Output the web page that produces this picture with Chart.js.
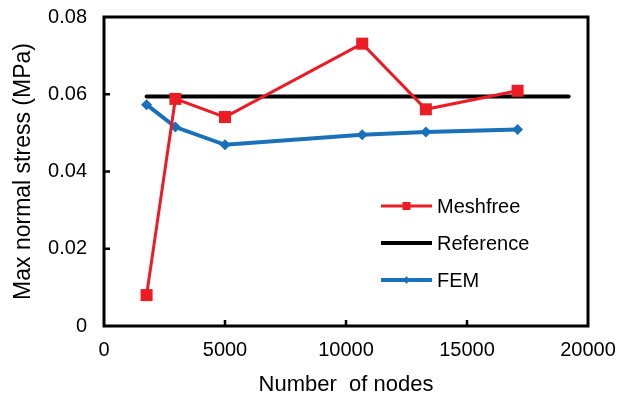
<!DOCTYPE html>
<html>
<head>
<meta charset="utf-8">
<script src="https://cdn.jsdelivr.net/npm/chart.js@4.4.1/dist/chart.umd.min.js"></script>
<style>
  html, body { margin: 0; padding: 0; background: #fff; }
</style>
</head>
<body>
<canvas id="stressChart" width="619" height="398"></canvas>
<script>
// convergence of max normal stress vs. mesh size
var nodes = [1760, 2950, 5000, 10670, 13300, 17090];
var meshfree = [0.0080, 0.0588, 0.0541, 0.0731, 0.0561, 0.0609];
var fem = [0.0573, 0.0515, 0.0469, 0.0495, 0.0502, 0.0509];
var refNodes = [1760, 19200];
var refStress = [0.0594, 0.0594];

var xTicks = [0, 5000, 10000, 15000, 20000];
var xTickLabels = ['0', '5000', '10000', '15000', '20000'];
var yTicks = [0, 0.02, 0.04, 0.06, 0.08];
var yTickLabels = ['0', '0.02', '0.04', '0.06', '0.08'];

var RED = '#ED1C24';
var BLUE = '#1B70BA';
var FONT = 'Arial, "Liberation Sans", sans-serif';

function toPoints(xs, ys) {
    return xs.map(function (x, i) { return { x: x, y: ys[i] }; });
}

Chart.defaults.font.family = FONT;
Chart.defaults.color = '#000';

// box frame with inward tick marks
var framePlugin = {
    id: 'frame',
    afterDatasetsDraw: function (chart) {
        var ctx = chart.ctx;
        var a = chart.chartArea;
        var xs = chart.scales.x, ys = chart.scales.y;
        ctx.save();
        ctx.strokeStyle = '#000';
        ctx.lineWidth = 3;
        ctx.strokeRect(a.left, a.top, a.right - a.left, a.bottom - a.top);
        ctx.lineWidth = 2.5;
        ctx.beginPath();
        xTicks.slice(1, -1).forEach(function (v) {
            var px = xs.getPixelForValue(v);
            ctx.moveTo(px, a.bottom);
            ctx.lineTo(px, a.bottom - 6);
        });
        yTicks.slice(1, -1).forEach(function (v) {
            var py = ys.getPixelForValue(v);
            ctx.moveTo(a.left, py);
            ctx.lineTo(a.left + 6, py);
        });
        ctx.stroke();
        ctx.restore();
    }
};

// legend drawn inside the plot
var legendPlugin = {
    id: 'innerLegend',
    afterDraw: function (chart) {
        var ctx = chart.ctx;
        var x0 = 381, x1 = 432, tx = 437;
        var rows = [206, 243, 280];
        ctx.save();
        ctx.font = '20px ' + FONT;
        ctx.textBaseline = 'middle';
        ctx.fillStyle = '#000';
        chart.data.datasets.forEach(function (ds, i) {
            var y = rows[i];
            ctx.strokeStyle = ds.borderColor;
            ctx.lineWidth = ds.borderWidth;
            ctx.beginPath();
            ctx.moveTo(x0, y);
            ctx.lineTo(x1, y);
            ctx.stroke();
            var cx = (x0 + x1) / 2;
            ctx.fillStyle = ds.borderColor;
            if (ds.pointStyle === 'rect') {
                ctx.fillRect(cx - 4, y - 4, 8, 8);
            } else if (ds.pointStyle === 'rectRot') {
                ctx.beginPath();
                ctx.moveTo(cx - 3, y);
                ctx.lineTo(cx, y - 4);
                ctx.lineTo(cx + 3, y);
                ctx.lineTo(cx, y + 4);
                ctx.closePath();
                ctx.fill();
            }
            ctx.fillStyle = '#000';
            ctx.fillText(ds.label, tx, y + 1);
        });
        ctx.restore();
    }
};

new Chart(document.getElementById('stressChart'), {
    type: 'scatter',
    data: {
        datasets: [{
            label: 'Meshfree',
            data: toPoints(nodes, meshfree),
            showLine: true,
            borderColor: RED,
            backgroundColor: RED,
            borderWidth: 3,
            pointStyle: 'rect',
            pointRadius: 8.5,
            pointBorderWidth: 0
        }, {
            label: 'Reference',
            data: toPoints(refNodes, refStress),
            showLine: true,
            borderColor: '#000',
            backgroundColor: '#000',
            borderWidth: 4,
            pointRadius: 0,
            borderCapStyle: 'round'
        }, {
            label: 'FEM',
            data: toPoints(nodes, fem),
            showLine: true,
            borderColor: BLUE,
            backgroundColor: BLUE,
            borderWidth: 4,
            pointStyle: 'rectRot',
            pointRadius: 5.5,
            pointBorderWidth: 0
        }]
    },
    options: {
        responsive: false,
        animation: false,
        devicePixelRatio: 1,
        layout: { padding: { top: 17, right: 31, left: 0, bottom: 0 } },
        plugins: { legend: { display: false }, tooltip: { enabled: false } },
        scales: {
            x: {
                type: 'linear',
                min: 0,
                max: 20000,
                afterBuildTicks: function (s) { s.ticks = xTicks.map(function (v) { return { value: v }; }); },
                afterFit: function (s) {
                    s.height = 72;
                    s.paddingLeft = 0;
                    s.paddingRight = 0;
                },
                grid: { display: false, drawTicks: false },
                border: { display: false },
                ticks: {
                    padding: 12,
                    maxRotation: 0,
                    font: { size: 20 },
                    callback: function (v) { return xTickLabels[xTicks.indexOf(v)]; }
                },
                title: {
                    display: true,
                    text: 'Number  of nodes',
                    font: { size: 22 },
                    padding: { top: 0, bottom: 0 }
                }
            },
            y: {
                min: 0,
                max: 0.08,
                afterBuildTicks: function (s) { s.ticks = yTicks.map(function (v) { return { value: v }; }); },
                afterFit: function (s) {
                    s.width = 104;
                    s.paddingTop = 0;
                    s.paddingBottom = 0;
                },
                grid: { display: false, drawTicks: false },
                border: { display: false },
                ticks: {
                    padding: 17,
                    font: { size: 20 },
                    callback: function (v) { return yTickLabels[yTicks.indexOf(v)]; }
                },
                title: {
                    display: true,
                    text: 'Max normal stress (MPa)',
                    font: { size: 23 },
                    padding: { top: 10, bottom: 0 }
                }
            }
        }
    },
    plugins: [framePlugin, legendPlugin]
});
</script>
</body>
</html>
